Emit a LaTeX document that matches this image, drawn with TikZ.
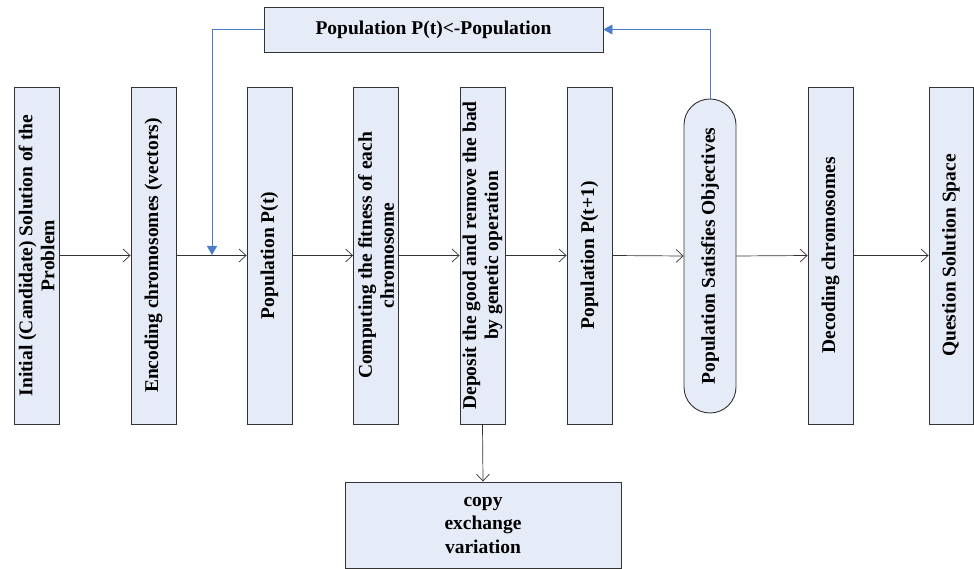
\documentclass[tikz,border=0pt]{standalone}
\usepackage{fontspec}
\setmainfont{Liberation Serif}
\usetikzlibrary{arrows.meta}
\definecolor{boxfill}{HTML}{E6ECF7}
\definecolor{loopblue}{HTML}{4A7CC9}
\definecolor{edge}{HTML}{333333}
\begin{document}
\begin{tikzpicture}[x=1pt,y=-1pt,
  vbox/.style={draw=edge,fill=boxfill,line width=0.9pt,rotate=90,
    minimum width=337pt,minimum height=45pt,inner sep=1pt,align=center,
    font=\fontsize{19.5}{22}\selectfont\bfseries},
  hbox/.style={draw=edge,fill=boxfill,line width=0.9pt,align=center,
    font=\fontsize{19.5}{23.5}\selectfont\bfseries},
  flow/.style={draw=edge,line width=0.7pt,-{Straight Barb[length=7pt,width=13pt]}},
  loop/.style={draw=loopblue,line width=0.8pt,-{Triangle[length=9pt,width=10pt]}}]
\useasboundingbox (0,0) rectangle (974,569);
\node[vbox] (b1) at (36.5,255.5) {Initial (Candidate) Solution of the\\Problem};
\node[vbox] (b2) at (153.5,255.5) {Encoding chromosomes (vectors)};
\node[vbox] (b3) at (269.5,255.5) {Population P(t)};
\node[vbox] (b4) at (376,255.5) {Computing the fitness of each\\chromosome};
\node[vbox] (b5) at (482.5,255.5) {Deposit the good and remove the bad\\by genetic operation};
\node[vbox] (b6) at (589.5,255.5) {Population P(t+1)};
\node[vbox,minimum width=314pt,minimum height=52pt,rounded corners=25.9pt] (b7) at (710,256) {Population Satisfies Objectives};
\node[vbox] (b8) at (830.5,255.5) {Decoding chromosomes};
\node[vbox,minimum height=44pt] (b9) at (951,255.5) {Question Solution Space};
\node[hbox,minimum width=339pt,minimum height=45pt] (top) at (433.5,29.5) {Population P(t)<-Population};
\node[hbox,minimum width=276pt,minimum height=86pt,inner sep=1pt] (bot) at (483,525) {copy\\exchange\\variation};
\draw[flow] (b1.south) -- (b2.north);
\draw[flow] (b2.south) -- (b3.north);
\draw[flow] (b3.south) -- (b4.north);
\draw[flow] (b4.south) -- (b5.north);
\draw[flow] (b5.south) -- (b6.north);
\draw[flow] (b6.south) -- (b7.north);
\draw[flow] (b7.south) -- (b8.north);
\draw[flow] (b8.south) -- (b9.north);
\draw[flow] (b5.west) -- (bot.north);
\coordinate (drop) at (212,255);
\draw[loop] (top.west) -| (drop);
\draw[loop] (b7.east) |- (top.east);
\end{tikzpicture}
\end{document}
